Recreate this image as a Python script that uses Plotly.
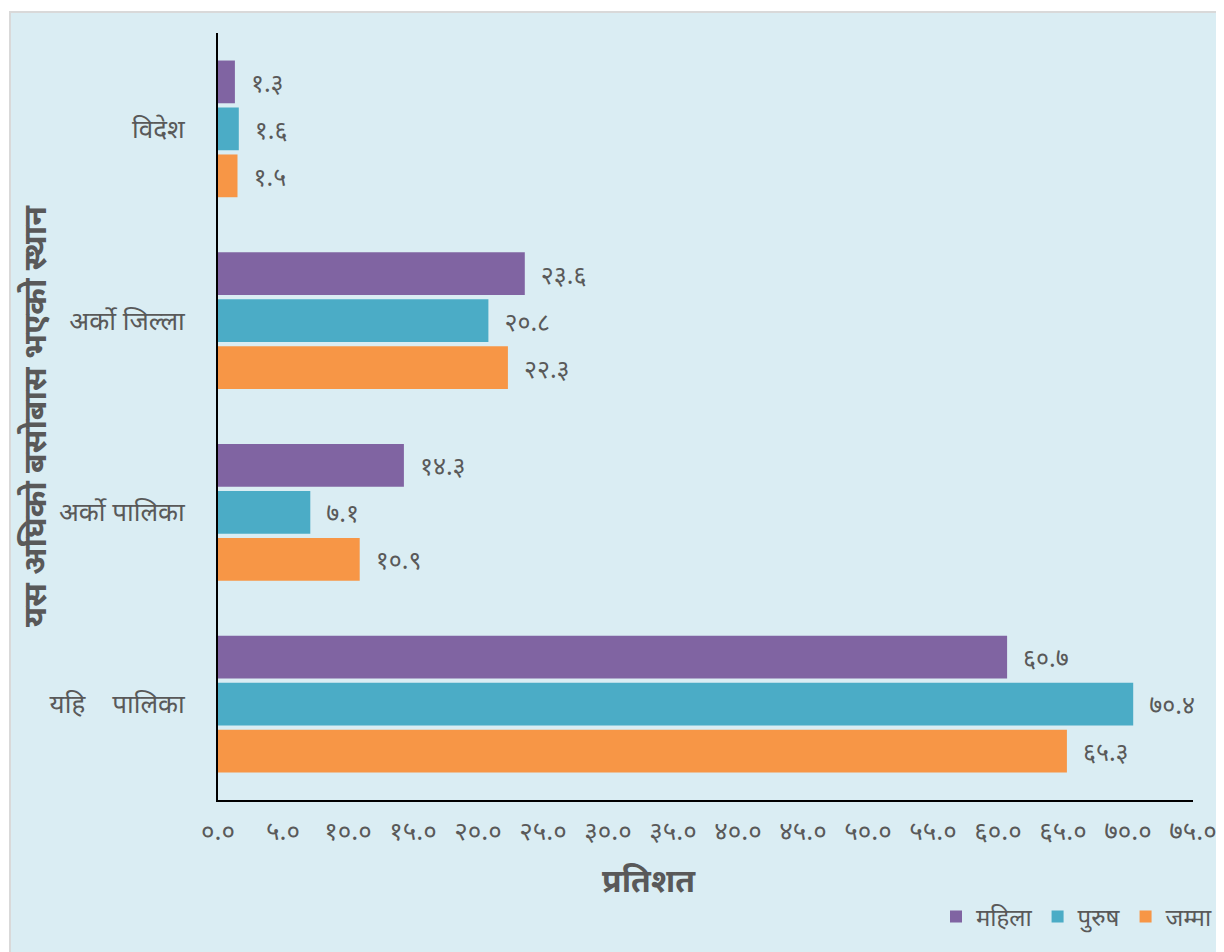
import plotly.graph_objects as go

categories = ["विदेश", "अर्को जिल्ला", "अर्को पालिका", "यहि\u00a0\u00a0\u00a0 पालिका"]
series_names = ["महिला", "पुरुष", "जम्मा"]
mahila = [1.3, 23.6, 14.3, 60.7]
purush = [1.6, 20.8, 7.1, 70.4]
jamma = [1.5, 22.3, 10.9, 65.3]
colors = ["#8064A2", "#4BACC6", "#F79646"]
tick_vals = [0, 5, 10, 15, 20, 25, 30, 35, 40, 45, 50, 55, 60, 65, 70, 75]
tick_text = ["०.०", "५.०", "१०.०", "१५.०", "२०.०", "२५.०", "३०.०", "३५.०",
             "४०.०", "४५.०", "५०.०", "५५.०", "६०.०", "६५.०", "७०.०", "७५.०"]

DEV = str.maketrans("0123456789", "०१२३४५६७८९")


def dev(v):
    return "\u00a0\u00a0" + f"{v:.1f}".translate(DEV)


# page is offset by the 8px body margin: work in page pixels, convert
OFF = 8
W, H = 1224 - OFF, 952 - OFF
X0, X1, Y0, Y1 = 218, 1193, 33, 800  # plot area in page pixels
L, R, T, B = X0 - OFF, W - (X1 - OFF), Y0 - OFF, H - (Y1 - OFF)
PW, PH = X1 - X0, Y1 - Y0


def px(x):
    return (x - X0) / PW


def py(y):
    return (Y1 - y) / PH


GRAY = "#595959"
FONT = "Noto Sans, Noto Sans Devanagari, sans-serif"

fig = go.Figure()
for name, vals, col in zip(series_names, [mahila, purush, jamma], colors):
    fig.add_trace(go.Bar(
        y=categories, x=vals, name=name, orientation="h",
        marker=dict(color=col, line=dict(width=0)),
        text=[dev(v) for v in vals], textposition="outside",
        textfont=dict(size=25, color=GRAY, family=FONT),
        cliponaxis=False,
    ))

fig.update_layout(
    width=W, height=H,
    margin=dict(l=L, r=R, t=T, b=B, pad=0, autoexpand=False),
    paper_bgcolor="white",
    plot_bgcolor="rgba(0,0,0,0)",
    barmode="group", bargap=0.265, bargroupgap=0.09,
    font=dict(family=FONT, color=GRAY, size=25),
    showlegend=True,
    legend=dict(orientation="h", x=px(1217), xanchor="right", y=py(917), yanchor="middle",
                font=dict(size=24, color=GRAY), bgcolor="rgba(0,0,0,0)",
                itemwidth=30, traceorder="normal"),
    xaxis=dict(range=[0, 75], tickvals=tick_vals, ticktext=tick_text, automargin=False,
               showgrid=False, zeroline=False, showline=True, linecolor="black",
               linewidth=2, ticks="", tickfont=dict(size=26, color=GRAY),
               ticklabelstandoff=7),
    yaxis=dict(autorange="reversed", showgrid=False, zeroline=False, showline=True,
               automargin=False, linecolor="black", linewidth=2, ticks="",
               tickfont=dict(size=26, color=GRAY), ticklabelstandoff=26),
    shapes=[dict(type="rect", xref="paper", yref="paper", layer="below",
                 x0=px(10), x1=px(1240), y0=py(970), y1=py(12),
                 fillcolor="#DAEDF3", line=dict(color="#D9D9D9", width=2))],
    annotations=[
        dict(text="<b>प्रतिशत</b>", xref="paper", yref="paper", x=px(649), y=py(879),
             showarrow=False, font=dict(size=32, color=GRAY), xanchor="center", yanchor="middle"),
        dict(text="<b>यस अघिको बसोबास भएको स्थान</b>", xref="paper", yref="paper",
             x=px(34), y=py(416), textangle=-90, showarrow=False,
             font=dict(size=32, color=GRAY), xanchor="center", yanchor="middle"),
    ],
)

fig.write_html("out.html")
